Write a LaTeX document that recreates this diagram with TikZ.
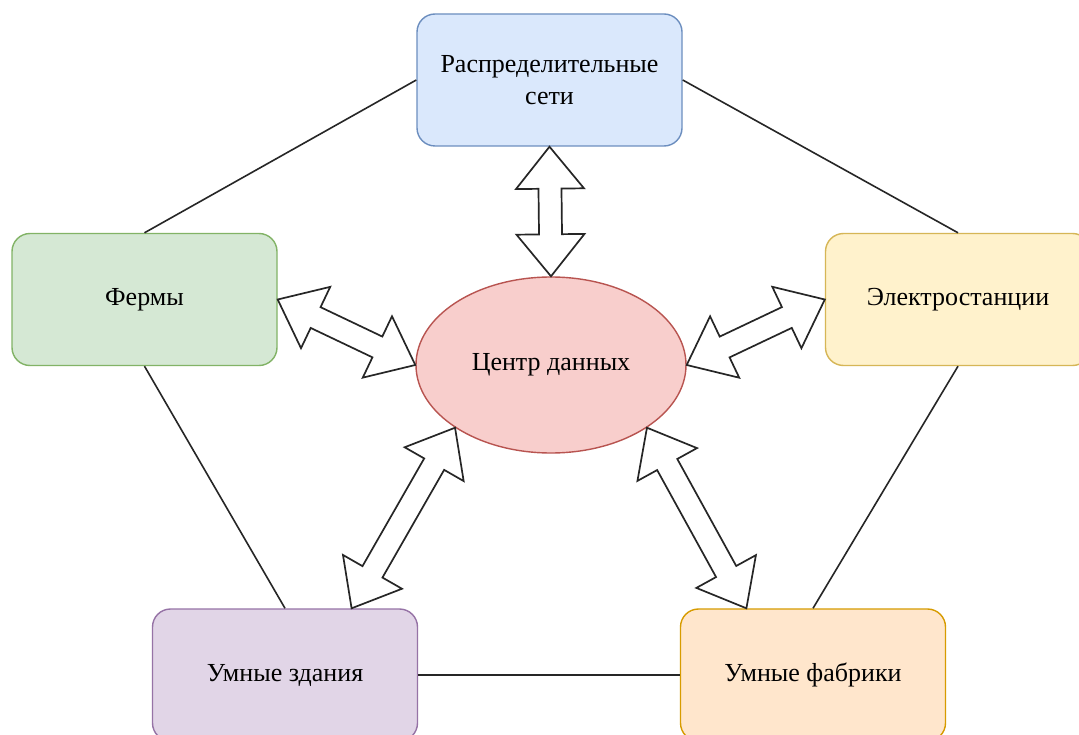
\documentclass[tikz,border=0pt]{standalone}
\usepackage{fontspec}
\setmainfont{Liberation Serif}
\usetikzlibrary{calc,shapes.geometric}
\definecolor{bluef}{HTML}{DAE8FC}\definecolor{bluel}{HTML}{6C8EBF}
\definecolor{greenf}{HTML}{D5E8D4}\definecolor{greenl}{HTML}{82B366}
\definecolor{yellowf}{HTML}{FFF2CC}\definecolor{yellowl}{HTML}{D6B656}
\definecolor{purplef}{HTML}{E1D5E7}\definecolor{purplel}{HTML}{9673A6}
\definecolor{orangef}{HTML}{FFE6CC}\definecolor{orangel}{HTML}{D79B00}
\definecolor{redf}{HTML}{F8CECC}\definecolor{redl}{HTML}{B85450}
\tikzset{
  box/.style={draw, rounded corners=18pt, minimum width=265pt, minimum height=132pt,
    inner sep=0pt, line width=1.4pt, align=center, font=\fontsize{26}{32}\selectfont},
  ell/.style={ellipse, draw, minimum width=270pt, minimum height=176pt, inner sep=0pt,
    line width=1.4pt, font=\fontsize{26}{32}\selectfont},
  link/.style={draw=black!85, line width=1.6pt},
  barrow/.style={draw=black!85, fill=white, line width=1.7pt, line join=miter},
}
\newcommand\dblarr[3]{%
  \coordinate (#1a) at ($(#2)!42pt!(#3)$);
  \coordinate (#1b) at ($(#3)!42pt!(#2)$);
  \draw[barrow] (#2) -- ($(#1a)!34pt!90:(#3)$) -- ($(#1a)!11.5pt!90:(#3)$)
    -- ($(#1b)!11.5pt!-90:(#2)$) -- ($(#1b)!34pt!-90:(#2)$) -- (#3)
    -- ($(#1b)!34pt!90:(#2)$) -- ($(#1b)!11.5pt!90:(#2)$)
    -- ($(#1a)!11.5pt!-90:(#3)$) -- ($(#1a)!34pt!-90:(#3)$) -- cycle;
}
\begin{document}
\begin{tikzpicture}[x=1pt, y=-1pt]
  \path[use as bounding box, clip] (0,0) rectangle (1079,735);
  \fill[white] (0,0) rectangle (1079,735);
  \node[box, fill=bluef, draw=bluel] (net) at (549.5,80) {Распределительные\\сети};
  \node[box, fill=greenf, draw=greenl] (farm) at (144.5,299.5) {Фермы};
  \node[box, fill=yellowf, draw=yellowl] (power) at (958,299.5) {Электростанции};
  \node[box, fill=purplef, draw=purplel] (bld) at (285,675) {Умные здания};
  \node[box, fill=orangef, draw=orangel] (fab) at (813,675) {Умные фабрики};
  \node[ell, fill=redf, draw=redl] (dc) at (551,365) {Центр данных};
  \draw[link] (net.west) -- (farm.north);
  \draw[link] (net.east) -- (power.north);
  \draw[link] (farm.south) -- (bld.north);
  \draw[link] (power.south) -- (fab.north);
  \draw[link] (bld.east) -- (fab.west);
  \coordinate (bldtip) at ($(bld.north)!0.5!(bld.north east)$);
  \coordinate (fabtip) at ($(fab.north west)!0.5!(fab.north)$);
  \dblarr{a1}{net.south}{dc.north}
  \dblarr{a2}{farm.east}{dc.west}
  \dblarr{a3}{dc.east}{power.west}
  \dblarr{a4}{dc.south west}{bldtip}
  \dblarr{a5}{dc.south east}{fabtip}
\end{tikzpicture}
\end{document}
